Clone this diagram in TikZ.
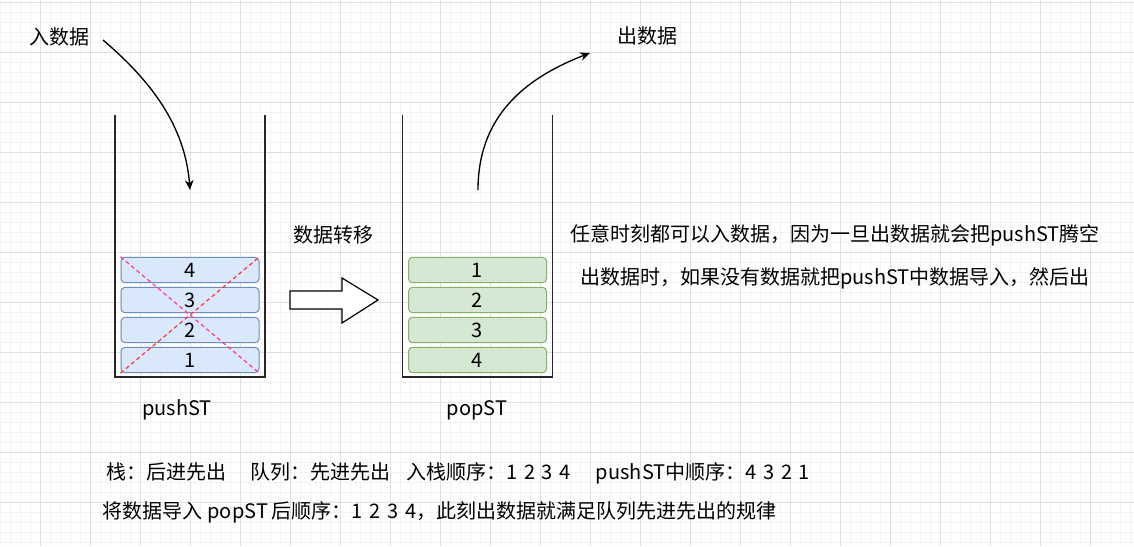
\documentclass[tikz,border=0pt]{standalone}
\usepackage{fontspec}
\setmainfont{Noto Sans CJK SC}
\usetikzlibrary{positioning,arrows.meta}
\usepackage{xcolor}
\definecolor{gridminor}{HTML}{F2F2F2}
\definecolor{gridmajor}{HTML}{E0E0E0}
\definecolor{pushfill}{HTML}{DAE8FC}
\definecolor{pushline}{HTML}{6C8EBF}
\definecolor{popfill}{HTML}{D5E8D4}
\definecolor{popline}{HTML}{82B366}
\definecolor{crossred}{HTML}{FF3333}
\definecolor{crosspink}{HTML}{FF3399}
\newcommand{\seqgap}{\hspace{5pt}}

\begin{document}
\begin{tikzpicture}[x=0.75pt,y=-0.75pt,>={Stealth[length=7.5pt,width=6.5pt]},
  every node/.style={font=\fontsize{15}{18}\selectfont,inner sep=0pt},
  pushbox/.style={draw=pushline,fill=pushfill,rounded corners=3pt,minimum width=103.5pt,minimum height=19pt,line width=0.75pt},
  popbox/.style={draw=popline,fill=popfill,rounded corners=3pt,minimum width=103.5pt,minimum height=19pt,line width=0.75pt},
  stackline/.style={draw=black!85,line width=1pt},
  crossline/.style={line width=0.9pt,dash pattern=on 3pt off 2.25pt}]
\useasboundingbox (0,0) rectangle (1134,546);
\fill[white] (0,0) rectangle (1134,546);
% grid
\foreach \k in {0,...,113} {\draw[gridminor,line width=0.75pt] (0.7+10*\k,0) -- (0.7+10*\k,546);}
\foreach \k in {0,...,54} {\draw[gridminor,line width=0.75pt] (0,2.7+10*\k) -- (1134,2.7+10*\k);}
\foreach \k in {0,...,21} {\draw[gridmajor,line width=0.75pt] (40.7+50*\k,0) -- (40.7+50*\k,546);}
\foreach \k in {0,...,10} {\draw[gridmajor,line width=0.75pt] (0,2.7+50*\k) -- (1134,2.7+50*\k);}

% the two stacks
\draw[stackline] (115,115) -- (115,377) -- (265,377) -- (265,115);
\draw[stackline] (402.5,115) -- (402.5,377) -- (552.5,377) -- (552.5,115);

\node[pushbox] (p4) at (190,270) {4};
\node[pushbox] (p3) at (190,300) {3};
\node[pushbox] (p2) at (190,330) {2};
\node[pushbox] (p1) at (190,360) {1};
\draw[crossline,crosspink] (p4.north west) -- (p1.south east);
\draw[crossline,crossred] (p1.south west) -- (p4.north east);

\node[popbox] (q1) at (477.5,270) {1};
\node[popbox] (q2) at (477.5,300) {2};
\node[popbox] (q3) at (477.5,330) {3};
\node[popbox] (q4) at (477.5,360) {4};

\node (pushName) at (177,410) {pushST};
\node (popName) at (477,410) {popST};

% in / out
\node (inLabel) at (59,37) {入数据};
\node (outLabel) at (647,36) {出数据};
\coordinate (inStart) at (103,40);
\coordinate (inEnd) at (190,190);
\coordinate (outStart) at (478,190);
\coordinate (outEnd) at (590,53);
\draw[->,line width=1pt] (inStart) .. controls (150,80) and (185,125) .. (inEnd);
\draw[->,line width=1pt] (outStart) .. controls (478,120) and (520,80) .. (outEnd);

% transfer
\node (moveLabel) at (333,235) {数据转移};
\draw[fill=white,line width=0.9pt] (290,291) -- (342,291) -- (342,278) -- (378,300) -- (342,323) -- (342,309) -- (290,309) -- cycle;

\node[align=center,font=\fontsize{15}{32.25}\selectfont] (rule) at (835,256.5)
  {任意时刻都可以入数据，因为一旦出数据就会把pushST腾空\\出数据时，如果没有数据就把pushST中数据导入，然后出};

\node[align=left,anchor=west,font=\fontsize{15}{29.25}\selectfont] (note) at (102,492.5)
  {\hspace{3pt}栈：后进先出\hspace{18pt}队列：先进先出\hspace{12pt}入栈顺序：1\seqgap 2\seqgap 3\seqgap 4\hspace{19pt}pushST中顺序：4\seqgap 3\seqgap 2\seqgap 1\\
   将数据导入\hspace{4pt}popST\hspace{3pt}后顺序：1\seqgap 2\seqgap 3\seqgap 4，此刻出数据就满足队列先进先出的规律};
\end{tikzpicture}
\end{document}
